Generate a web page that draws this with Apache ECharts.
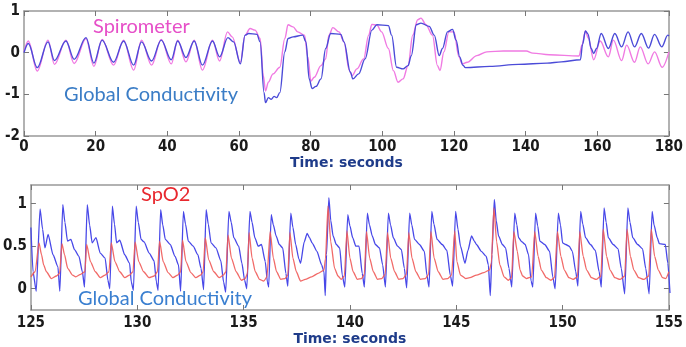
<!DOCTYPE html>
<html>
<head>
<meta charset="utf-8">
<script src="https://cdn.jsdelivr.net/npm/echarts@6/dist/echarts.min.js"></script>
<style>
html, body { margin: 0; padding: 0; background: #fff; }
#chart { width: 686px; height: 347px; }
</style>
</head>
<body>
<div id="chart"></div>
<script>
// top panel: [seconds, value]
const spirometer = [
  [0,0.02],[1.2,0.28],[3.7,-0.44],[6.7,0.3],[8.5,-0.28],[11.7,0.3],[14,-0.26],[17.3,0.34],[19.5,-0.33],
  [21.8,0.32],[25,-0.3],[27.8,0.3],[30.6,-0.42],[32.8,0.3],[35.6,-0.3],[38.3,0.32],[41.1,-0.27],[42.9,0.3],
  [45.2,-0.22],[47.5,0.3],[49.8,-0.42],[52.6,0.3],[54.6,-0.2],[56.8,0.5],[58.1,0.38],[60.4,-0.23],[61.7,0.42],
  [63.1,0.58],[64.5,0.54],[65.9,0.34],[66.8,-0.55],[67.4,-0.92],[68.2,-0.71],[69.5,-0.51],[71.4,-0.35],
  [72.8,0.34],[73.7,0.67],[75.1,0.62],[76.4,0.5],[78.3,0.42],[79.2,-0.1],[80.1,-0.68],[81,-0.59],[82.9,-0.31],
  [84.2,-0.15],[85.1,0.42],[86.2,0.6],[87.9,0.5],[89.3,0.26],[90.8,-0.43],[91.6,-0.55],[92.9,-0.39],[94.8,-0.15],
  [96.2,0.42],[97.1,0.68],[98.5,0.66],[99.8,0.5],[101.7,0.1],[103.1,-0.43],[104.4,-0.71],[105.8,-0.63],
  [107.2,-0.31],[108.5,0.42],[109.9,0.79],[110.8,0.83],[112.2,0.67],[114,0.42],[115.4,-0.31],[116.1,-0.43],
  [117.2,0.02],[118.6,0.5],[120,0.5],[121.4,-0.1],[122.3,-0.27],[123.7,-0.23],[126.4,-0.07],[129.2,0.02],
  [133.8,0.04],[140.2,0.04],[142,-0.01],[146.6,-0.05],[154.9,-0.08],[155.8,0.2],[156.7,0.52],[157.5,0.35],
  [159,-0.17],[160.8,0.28],[163.1,-0.1],[164.5,0.3],[166.8,-0.19],[168.2,0.18],[170.4,-0.23],[172,0.14],
  [174.2,-0.27],[176,0.02],[178.1,-0.35],[180,0.02]
];
const conductivityTop = [
  [0,0.0],[1.2,0.22],[3.7,-0.36],[6.7,0.26],[8.5,-0.19],[11.7,0.28],[14,-0.16],[17.3,0.36],[19.5,-0.25],
  [21.8,0.3],[25,-0.23],[27.8,0.28],[30.6,-0.3],[32.8,0.26],[35.6,-0.2],[38.3,0.3],[41.1,-0.17],[42.9,0.28],
  [45.2,-0.12],[47.5,0.28],[49.8,-0.3],[52.6,0.28],[54.6,-0.1],[56.9,0.36],[58.5,0.26],[60.4,-0.27],[61.7,0.42],
  [62.7,0.46],[65,0.44],[65.9,0.26],[67,-0.96],[67.4,-1.2],[68.2,-1.08],[69,-1.12],[69.8,-1.05],[70.5,-1.08],
  [71.4,-0.96],[72.8,0.02],[73.7,0.34],[75.1,0.38],[77.8,0.42],[78.7,0.26],[79.6,-0.63],[80.4,-0.86],[81.5,-0.81],
  [82.9,-0.63],[84.2,0.1],[85.6,0.46],[88.4,0.44],[89.3,0.26],[91.1,-0.47],[91.8,-0.63],[93.4,-0.51],[95.2,-0.15],
  [97.1,0.54],[98.5,0.67],[101.7,0.65],[102.6,0.42],[104,-0.35],[105.8,-0.39],[107.2,-0.31],[108.1,-0.07],
  [109.5,0.67],[110.8,0.71],[113.1,0.63],[114.5,0.42],[115.9,-0.07],[116.8,0.1],[118.2,0.5],[119.6,0.56],
  [120.6,0.3],[121.6,-0.1],[122.5,-0.3],[123.2,-0.36],[130,-0.33],[138,-0.28],[146,-0.25],[150,-0.22],
  [155.3,-0.17],[155.9,0.2],[156.7,0.52],[157.4,0.45],[158.3,0.1],[159,-0.02],[159.8,0.1],[161.1,0.46],
  [163.1,0.1],[164.9,0.46],[166.8,0.14],[168.6,0.5],[170.4,0.14],[172.3,0.46],[174.3,0.11],[176,0.44],
  [178,0.14],[179.7,0.42],[180,0.4]
];

// bottom panel: [seconds, value]
const spo2 = [
  [125.0,0.14],[125.2,0.2],[125.38,0.54],
  [125.5,0.4],[125.6,0.28],[125.73,0.2],[125.96,0.12],[126.2,0.15],[126.35,0.18],[126.46,0.53],
  [126.58,0.4],[126.73,0.24],[126.96,0.16],[127.11,0.14],[127.34,0.17],[127.54,0.2],[127.62,0.52],
  [127.8,0.32],[128.03,0.2],[128.26,0.13],[128.49,0.16],[128.67,0.2],[128.78,0.54],
  [128.95,0.32],[129.18,0.2],[129.41,0.13],[129.64,0.16],[129.8,0.2],[129.9,0.55],
  [130.07,0.32],[130.3,0.2],[130.55,0.13],[130.8,0.15],[130.95,0.2],[131.05,0.56],
  [131.22,0.32],[131.45,0.19],[131.68,0.13],[131.9,0.16],[132.04,0.2],[132.13,0.57],
  [132.29,0.32],[132.52,0.19],[132.75,0.13],[132.98,0.16],[133.1,0.2],[133.2,0.6],
  [133.36,0.34],[133.6,0.2],[133.85,0.13],[134.05,0.16],[134.17,0.2],[134.27,0.63],
  [134.43,0.36],[134.65,0.2],[134.9,0.1],[135.08,0.12],[135.18,0.18],[135.26,0.66],
  [135.4,0.36],[135.55,0.2],[135.75,0.11],[135.95,0.09],[136.1,0.14],[136.25,0.67],
  [136.4,0.36],[136.55,0.2],[136.75,0.11],[136.95,0.12],[137.08,0.16],[137.18,0.66],
  [137.32,0.36],[137.48,0.2],[137.68,0.09],[137.9,0.11],[138.2,0.14],[138.5,0.18],[138.78,0.22],[138.85,0.35],[138.97,0.97],
  [139.1,0.55],[139.28,0.24],[139.44,0.15],[139.59,0.11],[139.74,0.15],[139.86,0.68],
  [140.0,0.36],[140.15,0.2],[140.35,0.11],[140.55,0.12],[140.68,0.17],[140.78,0.67],
  [140.93,0.36],[141.1,0.2],[141.3,0.11],[141.5,0.12],[141.66,0.17],[141.77,0.66],
  [141.92,0.36],[142.1,0.2],[142.3,0.11],[142.5,0.12],[142.66,0.17],[142.77,0.66],
  [142.92,0.36],[143.1,0.2],[143.32,0.11],[143.55,0.12],[143.7,0.17],[143.81,0.67],
  [143.96,0.36],[144.15,0.2],[144.38,0.11],[144.6,0.12],[144.78,0.16],[144.93,0.68],
  [145.03,0.32],[145.2,0.16],[145.45,0.12],[145.64,0.13],[145.95,0.16],[146.3,0.19],[146.56,0.22],[146.65,0.3],[146.77,0.95],
  [146.9,0.55],[147.05,0.28],[147.25,0.14],[147.45,0.1],[147.6,0.13],[147.71,0.67],
  [147.87,0.44],[148.0,0.22],[148.12,0.15],[148.3,0.12],[148.55,0.14],[148.69,0.67],
  [148.85,0.38],[149.0,0.22],[149.24,0.13],[149.45,0.1],[149.62,0.13],[149.76,0.67],
  [149.92,0.38],[150.08,0.22],[150.3,0.13],[150.5,0.11],[150.7,0.14],[150.81,0.67],
  [150.97,0.38],[151.13,0.22],[151.36,0.13],[151.58,0.11],[151.8,0.15],[151.91,0.7],
  [152.07,0.38],[152.23,0.22],[152.46,0.13],[152.7,0.11],[152.92,0.15],[153.03,0.7],
  [153.19,0.38],[153.35,0.22],[153.58,0.13],[153.82,0.11],[154.05,0.15],[154.17,0.7],
  [154.33,0.38],[154.5,0.22],[154.7,0.13],[154.85,0.12],[155.0,0.2]
];
const conductivityBottom = [
  [125.0,0.72],[125.1,0.2],[125.25,-0.03],[125.43,0.94],
  [125.55,0.7],[125.66,0.48],[125.81,0.64],[126.04,0.4],[126.27,0.26],[126.36,-0.03],[126.5,0.99],
  [126.6,0.78],[126.72,0.56],[126.88,0.58],[127.05,0.46],[127.26,0.38],[127.42,0.2],[127.52,0.02],[127.65,0.99],
  [127.76,0.75],[127.88,0.54],[128.06,0.6],[128.26,0.42],[128.49,0.36],[128.62,0.1],[128.71,0.0],[128.83,0.97],
  [128.93,0.76],[129.03,0.54],[129.18,0.57],[129.41,0.4],[129.64,0.3],[129.72,0.08],[129.82,-0.02],[129.95,0.97],
  [130.05,0.78],[130.18,0.58],[130.32,0.55],[130.56,0.42],[130.79,0.33],[130.9,0.08],[130.98,-0.02],[131.1,0.93],
  [131.2,0.75],[131.32,0.58],[131.55,0.52],[131.78,0.38],[131.94,0.28],[132.04,-0.03],[132.17,0.91],
  [132.27,0.76],[132.4,0.56],[132.63,0.5],[132.85,0.4],[133.0,0.24],[133.12,-0.01],[133.24,0.93],
  [133.34,0.76],[133.47,0.54],[133.7,0.48],[133.93,0.33],[134.06,0.08],[134.16,-0.04],[134.31,0.91],
  [134.42,0.78],[134.54,0.6],[134.77,0.5],[134.92,0.3],[135.05,0.1],[135.15,0.0],[135.3,0.91],
  [135.4,0.78],[135.53,0.6],[135.69,0.5],[135.84,0.52],[136.02,0.32],[136.12,0.08],[136.18,0.02],[136.3,0.87],
  [136.4,0.75],[136.53,0.62],[136.68,0.52],[136.84,0.48],[136.99,0.18],[137.08,0.03],[137.22,0.89],
  [137.32,0.72],[137.45,0.52],[137.6,0.35],[137.68,0.3],[137.85,0.55],[137.99,0.65],[138.1,0.6],[138.22,0.54],
  [138.45,0.44],[138.67,0.28],[138.78,0.2],[138.84,-0.08],[138.9,0.4],[139.01,1.07],
  [139.1,0.8],[139.21,0.62],[139.36,0.52],[139.52,0.48],[139.64,0.16],[139.76,0.02],[139.9,0.87],
  [140.0,0.74],[140.13,0.6],[140.28,0.5],[140.43,0.5],[140.58,0.18],[140.68,0.02],[140.82,0.89],
  [140.92,0.75],[141.05,0.62],[141.2,0.52],[141.39,0.48],[141.54,0.28],[141.67,0.02],[141.81,0.89],
  [141.91,0.75],[142.04,0.6],[142.24,0.5],[142.42,0.46],[142.56,0.24],[142.67,0.01],[142.81,0.89],
  [142.91,0.75],[143.04,0.58],[143.27,0.52],[143.5,0.44],[143.62,0.16],[143.72,0.02],[143.85,0.91],
  [143.95,0.76],[144.1,0.58],[144.34,0.52],[144.56,0.45],[144.72,0.16],[144.83,0.03],[144.97,0.91],
  [145.08,0.7],[145.2,0.5],[145.41,0.3],[145.55,0.45],[145.72,0.62],[145.85,0.56],[145.95,0.52],[146.18,0.44],
  [146.41,0.38],[146.51,0.28],[146.6,-0.08],[146.68,0.4],[146.79,1.05],
  [146.88,0.8],[146.99,0.62],[147.17,0.52],[147.32,0.48],[147.48,0.24],[147.61,0.02],[147.75,0.89],
  [147.85,0.75],[147.93,0.6],[148.09,0.55],[148.24,0.52],[148.4,0.4],[148.52,0.09],[148.6,0.02],[148.73,0.89],
  [148.83,0.74],[148.93,0.56],[149.16,0.52],[149.39,0.44],[149.54,0.14],[149.65,0.0],[149.8,0.89],
  [149.9,0.75],[150.0,0.54],[150.15,0.52],[150.31,0.5],[150.46,0.44],[150.62,0.2],[150.72,0.03],[150.85,0.91],
  [150.95,0.76],[151.08,0.6],[151.31,0.52],[151.54,0.45],[151.72,0.2],[151.82,0.02],[151.95,0.95],
  [152.05,0.78],[152.15,0.6],[152.38,0.52],[152.61,0.47],[152.76,0.24],[152.92,-0.06],[153.07,0.95],
  [153.17,0.78],[153.3,0.6],[153.53,0.52],[153.76,0.47],[153.91,0.24],[154.07,-0.06],[154.21,0.91],
  [154.3,0.75],[154.45,0.6],[154.55,0.53],[154.83,0.52],[154.95,0.3],[155.05,-0.05]
];

const bottomYTicks = [0, 0.5, 1];

const tickFont = {
  fontFamily: '"Liberation Sans Narrow", "DejaVu Sans Condensed", sans-serif',
  fontWeight: 'bold',
  fontSize: 15,
  color: '#1a1a1a'
};
const nameFont = {
  fontFamily: '"DejaVu Sans", sans-serif',
  fontWeight: 'bold',
  fontSize: 14,
  color: '#1f3c8a'
};
const frameLine = { lineStyle: { color: '#999', width: 1.5 }, onZero: false };
const innerTick = { inside: true, length: 5, lineStyle: { color: '#777', width: 1 } };

function mirrorX(grid, min, max, interval) {
  return {
    gridIndex: grid, type: 'value', position: 'top', min: min, max: max, interval: interval,
    axisLine: frameLine, axisTick: innerTick, axisLabel: { show: false }, splitLine: { show: false }
  };
}

const myChart = echarts.init(document.getElementById('chart'));

const option = {
  animation: false,
  backgroundColor: '#fff',
  grid: [
    { left: 24, top: 11, width: 654, height: 125 },
    { left: 24, top: 185, width: 653, height: 125 }
  ],
  xAxis: [
    {
      gridIndex: 0, type: 'value', min: 0, max: 180, interval: 20,
      axisLine: frameLine, axisTick: innerTick, splitLine: { show: false },
      axisLabel: Object.assign({ margin: 4 }, tickFont),
      name: 'Time: seconds', nameLocation: 'middle', nameGap: 18, nameTextStyle: nameFont
    },
    mirrorX(0, 0, 180, 20),
    {
      gridIndex: 1, type: 'value', min: 125, max: 155, interval: 5,
      axisLine: frameLine, axisTick: innerTick, splitLine: { show: false },
      axisLabel: Object.assign({ margin: 6 }, tickFont),
      name: 'Time: seconds', nameLocation: 'middle', nameGap: 21, nameTextStyle: nameFont
    },
    mirrorX(1, 125, 155, 5)
  ],
  yAxis: [
    {
      gridIndex: 0, type: 'value', min: -2, max: 1, interval: 1,
      axisLine: frameLine, axisTick: innerTick, splitLine: { show: false },
      axisLabel: Object.assign({ margin: 4 }, tickFont)
    },
    {
      gridIndex: 0, type: 'value', position: 'right', min: -2, max: 1, interval: 1,
      axisLine: frameLine, axisTick: innerTick, splitLine: { show: false }, axisLabel: { show: false }
    },
    {
      gridIndex: 1, type: 'value', min: -0.25, max: 1.22,
      axisLine: frameLine, splitLine: { show: false },
      axisTick: Object.assign({ customValues: bottomYTicks }, innerTick),
      axisLabel: Object.assign({ margin: 4, customValues: bottomYTicks }, tickFont)
    },
    {
      gridIndex: 1, type: 'value', position: 'right', min: -0.25, max: 1.22,
      axisLine: frameLine, splitLine: { show: false }, axisLabel: { show: false },
      axisTick: Object.assign({ customValues: bottomYTicks }, innerTick)
    }
  ],
  graphic: [
    { type: 'text', left: 93, top: 17, style: { text: 'Spirometer', fill: '#e64fc8', font: '20px Lato' } },
    { type: 'text', left: 64, top: 85, style: { text: 'Global Conductivity', fill: '#3b7dc6', font: '20px Lato' } },
    { type: 'text', left: 141, top: 185, style: { text: 'SpO2', fill: '#e8282e', font: '20px Lato' } },
    { type: 'text', left: 78, top: 289, style: { text: 'Global Conductivity', fill: '#3a7fd0', font: '20px Lato' } }
  ],
  series: [
    {
      type: 'line', xAxisIndex: 0, yAxisIndex: 0, data: spirometer, showSymbol: false,
      smooth: 0.35, smoothMonotone: 'x',
      lineStyle: { color: '#f07ae2', width: 1.4 }, itemStyle: { color: '#f07ae2' }
    },
    {
      type: 'line', xAxisIndex: 0, yAxisIndex: 0, data: conductivityTop, showSymbol: false,
      smooth: 0.35, smoothMonotone: 'x',
      lineStyle: { color: '#4b4bd8', width: 1.4 }, itemStyle: { color: '#4b4bd8' }
    },
    {
      type: 'line', xAxisIndex: 2, yAxisIndex: 2, data: conductivityBottom, showSymbol: false,
      smooth: 0.2, smoothMonotone: 'x',
      lineStyle: { color: '#4848e8', width: 1.3 }, itemStyle: { color: '#4848e8' }
    },
    {
      type: 'line', xAxisIndex: 2, yAxisIndex: 2, data: spo2, showSymbol: false,
      smooth: 0.2, smoothMonotone: 'x',
      lineStyle: { color: '#f05a58', width: 1.3, opacity: 0.9 }, itemStyle: { color: '#f05a58' }
    }
  ]
};

myChart.setOption(option);
</script>
</body>
</html>
